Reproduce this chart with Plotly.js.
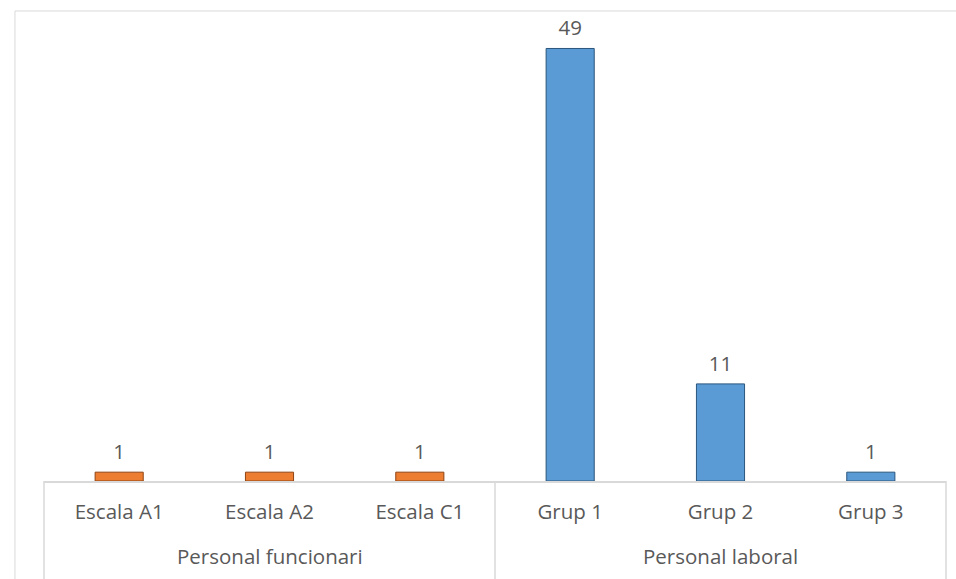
<!DOCTYPE html>
<html>
<head>
<meta charset="utf-8">
<script src="https://cdn.plot.ly/plotly-3.0.1.min.js"></script>
<style>html,body{margin:0;padding:0;background:#fff;}#chart{width:956px;height:579px;}</style>
</head>
<body>
<div id="chart"></div>
<script>
// Data
const categories = ["Escala A1", "Escala A2", "Escala C1", "Grup 1", "Grup 2", "Grup 3"];
const groupNames = ["Personal funcionari", "Personal laboral"];
const groupCenters = ["Escala A2", "Grup 2"];
const funcionariCats = ["Escala A1", "Escala A2", "Escala C1"];
const funcionariValues = [1, 1, 1];
const laboralCats = ["Grup 1", "Grup 2", "Grup 3"];
const laboralValues = [49, 11, 1];

const FONT = "'Open Sans', sans-serif";
const FS = 20.5;
const TXT = "#595959";
const GRID = "#d9d9d9";

function barTrace(cats, vals, name, color, lineColor) {
  return {
    type: "bar", x: cats, y: vals, name: name,
    marker: {color: color, line: {color: lineColor, width: 1}},
    hoverinfo: "x+y"
  };
}
function labelTrace(cats, vals) {
  return {
    type: "scatter", mode: "markers+text", x: cats, y: vals,
    marker: {size: 11, opacity: 0},
    text: vals.map(String), textposition: "top center", cliponaxis: false,
    textfont: {family: FONT, size: FS, color: TXT}, hoverinfo: "skip"
  };
}

const traces = [
  barTrace(funcionariCats, funcionariValues, groupNames[0], "#ED7D31", "#8f4412"),
  barTrace(laboralCats, laboralValues, groupNames[1], "#5B9BD5", "#2a557d"),
  labelTrace(funcionariCats, funcionariValues),
  labelTrace(laboralCats, laboralValues)
];

const yb = -0.24;
const shapes = [
  {type: "rect", xref: "paper", yref: "paper", x0: -0.0322, x1: 1.03, y0: -0.3, y1: 1.024,
   line: {color: GRID, width: 1}, fillcolor: "rgba(0,0,0,0)", layer: "below"},
  {type: "line", xref: "paper", yref: "paper", x0: 0, x1: 0, y0: 0, y1: yb, line: {color: GRID, width: 1.5}},
  {type: "line", xref: "paper", yref: "paper", x0: 0.5, x1: 0.5, y0: 0, y1: yb, line: {color: GRID, width: 1.5}},
  {type: "line", xref: "paper", yref: "paper", x0: 1, x1: 1, y0: 0, y1: yb, line: {color: GRID, width: 1.5}}
];

const annotations = groupNames.map((g, i) => ({
  text: g, xref: "x", x: groupCenters[i], yref: "paper", y: -0.163,
  xanchor: "center", yanchor: "middle", showarrow: false,
  font: {family: FONT, size: FS, color: TXT}
}));

const layout = {
  width: 956, height: 579,
  margin: {l: 44, r: 10, t: 22, b: 98},
  paper_bgcolor: "#ffffff", plot_bgcolor: "#ffffff",
  showlegend: false,
  barmode: "overlay", bargap: 0.68,
  xaxis: {
    type: "category", categoryorder: "array", categoryarray: categories,
    showline: true, linecolor: GRID, linewidth: 1.5, ticks: "", showgrid: false,
    tickfont: {family: FONT, size: FS, color: TXT}, ticklabelstandoff: 12,
    fixedrange: true
  },
  yaxis: {range: [0, 52], visible: false, showgrid: false, zeroline: false, fixedrange: true},
  shapes: shapes,
  annotations: annotations
};

Plotly.newPlot("chart", traces, layout, {displayModeBar: false, staticPlot: true});
</script>
</body>
</html>
